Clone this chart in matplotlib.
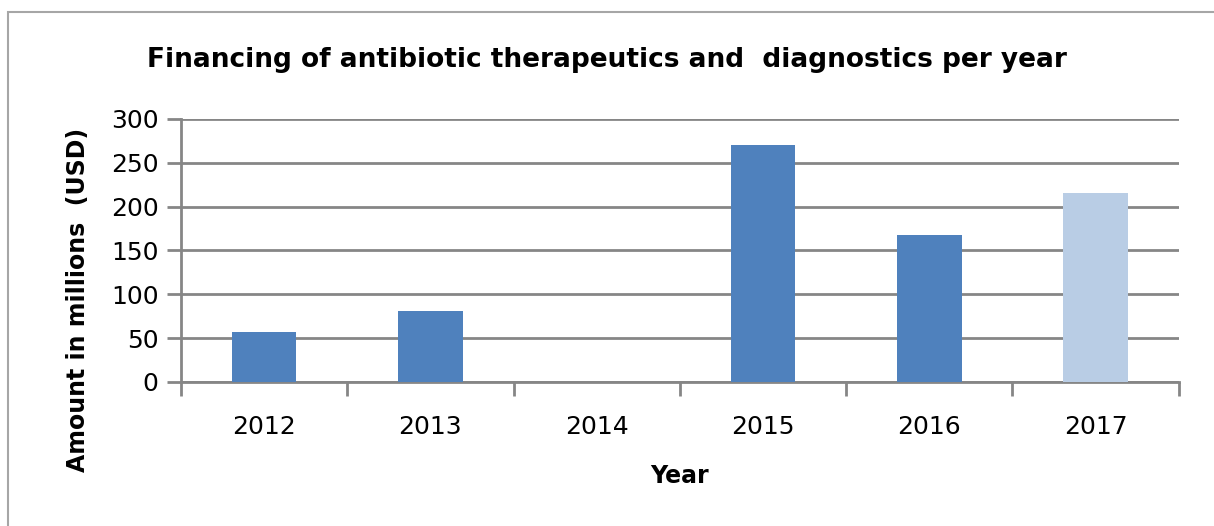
import matplotlib
matplotlib.use("Agg")
from matplotlib import pyplot as plt
from matplotlib.patches import Rectangle
import numpy as np

# data
years = ["2012", "2013", "2014", "2015", "2016", "2017"]
amounts = [57, 81, 0, 270, 167, 215]
bar_colors = ["#4F81BD", "#4F81BD", "#4F81BD", "#4F81BD", "#4F81BD", "#B9CDE5"]
y_ticks = [0, 50, 100, 150, 200, 250, 300]

grid_color = "#868686"

fig = plt.figure(figsize=(12.14, 5.26), dpi=100)
ax = fig.add_axes([0.149, 0.274, 0.822, 0.500])

x = np.arange(len(years))
ax.bar(x, amounts, width=0.39, color=bar_colors, zorder=3)

ax.set_xlim(-0.5, len(years) - 0.5)
ax.set_ylim(0, 300)
ax.set_yticks(y_ticks)
ax.set_yticklabels([str(v) for v in y_ticks], fontsize=18)
ax.set_xticks(x)
ax.set_xticklabels(years, fontsize=18)
ax.set_xticks(np.arange(len(years) + 1) - 0.5, minor=True)

ax.tick_params(axis="x", which="major", length=0, pad=24)
ax.tick_params(axis="x", which="minor", length=10, width=2, color=grid_color)
ax.tick_params(axis="y", length=10, width=2, color=grid_color, pad=6)

ax.grid(axis="y", color=grid_color, linewidth=2, zorder=0)
for side in ["top", "right"]:
    ax.spines[side].set_visible(False)
ax.spines["left"].set_color(grid_color)
ax.spines["left"].set_linewidth(2)
ax.spines["bottom"].set_color(grid_color)
ax.spines["bottom"].set_linewidth(2)

ax.set_xlabel("Year", fontsize=17, fontweight="bold", labelpad=18)
ax.set_ylabel("Amount in millions  (USD)", fontsize=17, fontweight="bold")
ax.yaxis.set_label_coords(-0.091, 0.31)

fig.text(0.5, 0.885, "Financing of antibiotic therapeutics and  diagnostics per year",
         ha="center", va="center", fontsize=19, fontweight="bold")

# outer chart border (right and bottom edges fall outside the picture)
fig.patches.append(Rectangle((8 / 1214, -0.05), 1.1, (514 / 526) + 0.05,
                             transform=fig.transFigure, fill=False,
                             edgecolor="#A6A6A6", linewidth=1.5))

fig.savefig("out.png", dpi=100)
